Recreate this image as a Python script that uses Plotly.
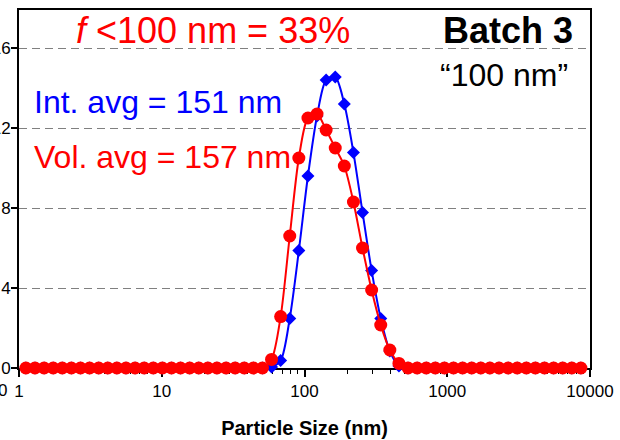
import plotly.graph_objects as go

# Size classes (nm) of the DLS size distribution
sizes = [1.117, 1.294, 1.499, 1.736, 2.010, 2.328, 2.696, 3.122, 3.615, 4.187,
         4.849, 5.615, 6.503, 7.531, 8.721, 10.10, 11.70, 13.54, 15.69, 18.17,
         21.04, 24.36, 28.21, 32.67, 37.84, 43.82, 50.75, 58.77, 68.06, 78.82,
         91.28, 105.7, 122.4, 141.8, 164.2, 190.1, 220.2, 255.0, 295.3, 342.0,
         396.1, 458.7, 531.2, 615.1, 712.4, 825.0, 955.4, 1106, 1281, 1484,
         1718, 1990, 2305, 2669, 3091, 3580, 4145, 4801, 5560, 6439,
         7456, 8635]

# Intensity-weighted distribution (%)
intensity = [0] * 27 + [0.05, 0.37, 2.48, 5.87, 9.6, 12.6, 14.4, 14.55, 13.2,
                        10.77, 7.78, 4.87, 2.48, 0.85, 0.1] + [0] * 20

# Volume-weighted distribution (%)
volume = [0] * 27 + [0.43, 2.57, 6.6, 10.5, 12.5, 12.7, 11.9, 11.0, 10.1,
                     8.3, 6.0, 3.9, 2.15, 0.9, 0.23] + [0] * 20

x_ticks = [1, 10, 100, 1000, 10000]
x_tick_text = ["1", "10", "100", "1000", "10000"]
y_ticks = [0, 4, 8, 12, 16]

FONT = "Liberation Sans, Arial, sans-serif"

fig = go.Figure()

fig.add_trace(go.Scatter(
    x=sizes, y=intensity, mode="lines+markers", name="Intensity",
    line=dict(color="#0000FF", width=2, shape="spline", smoothing=0.8),
    marker=dict(symbol="diamond", size=10, color="#0000FF"),
    cliponaxis=False,
))
fig.add_trace(go.Scatter(
    x=sizes, y=volume, mode="lines+markers", name="Volume",
    line=dict(color="#FF0000", width=2, shape="spline", smoothing=0.8),
    marker=dict(symbol="circle", size=13, color="#FF0000"),
    cliponaxis=False,
))

fig.update_layout(
    width=620, height=440,
    margin=dict(l=19, r=30, t=10, b=72),
    paper_bgcolor="white", plot_bgcolor="white",
    showlegend=False,
    font=dict(family=FONT, size=17, color="black"),
)

fig.update_xaxes(
    type="log", range=[0, 4], automargin=False,
    tickvals=x_ticks, ticktext=x_tick_text,
    ticks="outside", ticklen=7, tickwidth=1.5, tickcolor="black",
    minor=dict(ticks="outside", ticklen=4, tickwidth=1, tickcolor="black",
               dtick="D1", showgrid=False),
    showline=True, linewidth=2, linecolor="black", mirror=True,
    showgrid=False, zeroline=False, layer="below traces",
    tickfont=dict(size=17),
    title=dict(text="<b>Particle Size (nm)</b>", font=dict(size=20), standoff=21),
)
fig.update_yaxes(
    range=[0, 17.9], tickvals=y_ticks, automargin=False,
    ticks="outside", ticklen=6, tickwidth=1.5, tickcolor="black",
    ticklabelstandoff=-3,
    showline=True, linewidth=2, linecolor="black", mirror=True,
    showgrid=True, gridcolor="#808080", gridwidth=1.2, griddash="8px,5px",
    zeroline=False, layer="below traces",
    tickfont=dict(size=17),
)

annotations = [
    dict(text="<i>f</i> &lt;100 nm = 33%", x=0.3406, y=0.944, xanchor="center",
         yanchor="middle", font=dict(size=36, color="#FF0000")),
    dict(text="<b>Batch 3</b>", x=0.9737, y=0.944, xanchor="right",
         yanchor="middle", font=dict(size=36, color="black")),
    dict(text="\u201c100 nm\u201d", x=0.965, y=0.818, xanchor="right",
         yanchor="middle", font=dict(size=32, color="black")),
    dict(text="Int. avg = 151 nm", x=0.023, y=0.743, xanchor="left",
         yanchor="middle", font=dict(size=32, color="#0000FF")),
    dict(text="Vol. avg = 157 nm", x=0.023, y=0.589, xanchor="left",
         yanchor="middle", font=dict(size=32, color="#FF0000")),
    dict(text="0", x=-0.0175, y=-0.062, xanchor="right", yanchor="middle",
         font=dict(size=17, color="black")),
]
for a in annotations:
    fig.add_annotation(xref="paper", yref="paper", showarrow=False, **a)

fig.write_html("out.html")
